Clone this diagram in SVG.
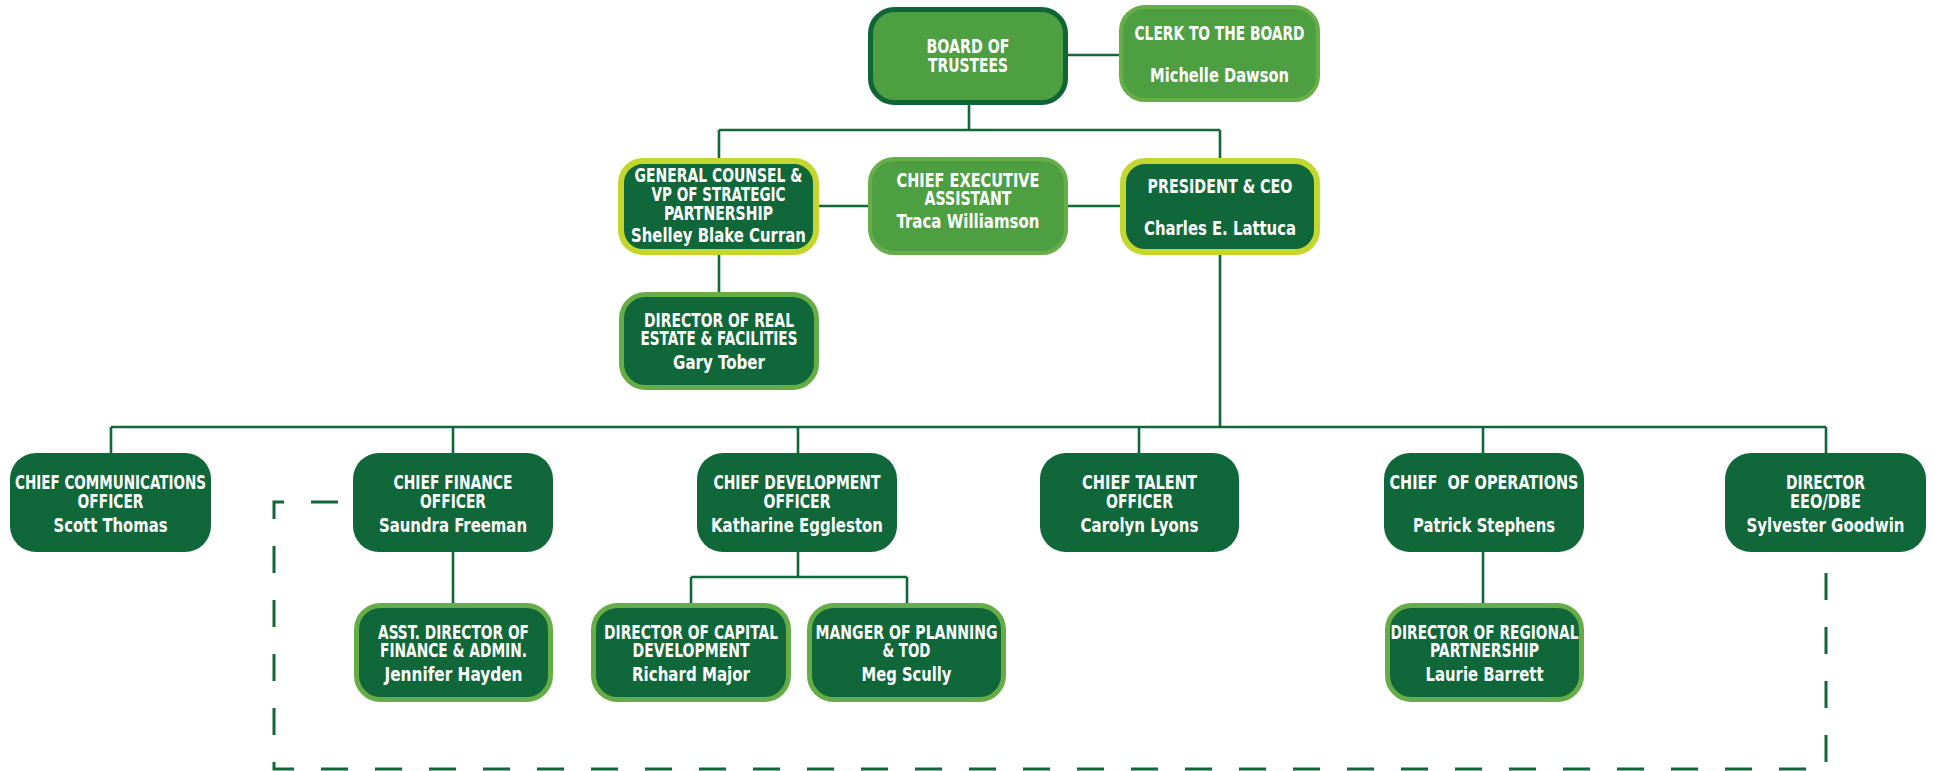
<svg xmlns="http://www.w3.org/2000/svg" width="1935" height="771" viewBox="0 0 1935 771">
<style>
.dk{fill:#10673a}
.yg{fill:#10673a;stroke:#c3d72f;stroke-width:6}
.r4{fill:#10673a;stroke:#67ad47;stroke-width:5}
.bd{fill:#4d9f42;stroke:#0f6536;stroke-width:5}
.lt{fill:#4d9f42;stroke:#68ae48;stroke-width:4}
text{font-family:"Liberation Sans Narrow","DejaVu Sans Condensed","Liberation Sans",sans-serif;font-stretch:condensed;font-weight:bold;font-size:19.5px;fill:#ffffff;text-anchor:middle}
.ln{fill:none;stroke:#10673a;stroke-width:2.6}
.dash{fill:none;stroke:#10673a;stroke-width:3;stroke-dasharray:27 27}
</style>
<rect width="1935" height="771" fill="#ffffff"/>
<g id="connectors">
<path class="ln" d="M1067,55H1120"/>
<path class="ln" d="M969,105V130M719,130H1220M719,130V159M1220,130V159"/>
<path class="ln" d="M817,206H869M1067,206H1121"/>
<path class="ln" d="M719,255V293"/>
<path class="ln" d="M1220,255V427M111,427H1826"/>
<path class="ln" d="M111,427V453M453,427V453M798,427V453M1139,427V453M1483,427V453M1826,427V453"/>
<path class="ln" d="M453,552V604"/>
<path class="ln" d="M798,552V577M691,577H907M691,577V604M907,577V604"/>
<path class="ln" d="M1483,552V604"/>
<path class="dash" d="M338,502H274V769H1826V552"/>
</g>
<g id="board">
<rect class="bd" x="870.5" y="9.5" width="195" height="93" rx="24"/>
<text x="968" y="53" textLength="83" lengthAdjust="spacingAndGlyphs">BOARD OF</text>
<text x="968" y="72" textLength="80" lengthAdjust="spacingAndGlyphs">TRUSTEES</text>
</g>
<g id="clerk">
<rect class="lt" x="1121" y="7" width="197" height="93" rx="24"/>
<text x="1219.5" y="40" textLength="170" lengthAdjust="spacingAndGlyphs">CLERK TO THE BOARD</text>
<text x="1219.5" y="82" textLength="139" lengthAdjust="spacingAndGlyphs">Michelle Dawson</text>
</g>
<g id="general-counsel">
<rect class="yg" x="621" y="161" width="195" height="91" rx="22"/>
<text x="718.5" y="182" textLength="168" lengthAdjust="spacingAndGlyphs">GENERAL COUNSEL &amp;</text>
<text x="718.5" y="201" textLength="134" lengthAdjust="spacingAndGlyphs">VP OF STRATEGIC</text>
<text x="718.5" y="220" textLength="109" lengthAdjust="spacingAndGlyphs">PARTNERSHIP</text>
<text x="718.5" y="242" textLength="175" lengthAdjust="spacingAndGlyphs">Shelley Blake Curran</text>
</g>
<g id="chief-executive-assistant">
<rect class="lt" x="870" y="159" width="196" height="94" rx="24"/>
<text x="968" y="187" textLength="143" lengthAdjust="spacingAndGlyphs">CHIEF EXECUTIVE</text>
<text x="968" y="205" textLength="87" lengthAdjust="spacingAndGlyphs">ASSISTANT</text>
<text x="968" y="228" textLength="143" lengthAdjust="spacingAndGlyphs">Traca Williamson</text>
</g>
<g id="president">
<rect class="yg" x="1123" y="161" width="194" height="91" rx="22"/>
<text x="1220" y="193" textLength="145" lengthAdjust="spacingAndGlyphs">PRESIDENT &amp; CEO</text>
<text x="1220" y="235" textLength="152" lengthAdjust="spacingAndGlyphs">Charles E. Lattuca</text>
</g>
<g id="real-estate">
<rect class="r4" x="621.5" y="294.5" width="195" height="93" rx="24"/>
<text x="719" y="327" textLength="150" lengthAdjust="spacingAndGlyphs">DIRECTOR OF REAL</text>
<text x="719" y="345" textLength="157" lengthAdjust="spacingAndGlyphs">ESTATE &amp; FACILITIES</text>
<text x="719" y="369" textLength="92" lengthAdjust="spacingAndGlyphs">Gary Tober</text>
</g>
<g id="cco">
<rect class="dk" x="10" y="453" width="201" height="99" rx="26"/>
<text x="110.5" y="489" textLength="191" lengthAdjust="spacingAndGlyphs">CHIEF COMMUNICATIONS</text>
<text x="110.5" y="508" textLength="66" lengthAdjust="spacingAndGlyphs">OFFICER</text>
<text x="110.5" y="532" textLength="114" lengthAdjust="spacingAndGlyphs">Scott Thomas</text>
</g>
<g id="cfo">
<rect class="dk" x="353" y="453" width="200" height="99" rx="26"/>
<text x="453" y="489" textLength="119" lengthAdjust="spacingAndGlyphs">CHIEF FINANCE</text>
<text x="453" y="508" textLength="66" lengthAdjust="spacingAndGlyphs">OFFICER</text>
<text x="453" y="532" textLength="148" lengthAdjust="spacingAndGlyphs">Saundra Freeman</text>
</g>
<g id="cdo">
<rect class="dk" x="697" y="453" width="200" height="99" rx="26"/>
<text x="797" y="489" textLength="167" lengthAdjust="spacingAndGlyphs">CHIEF DEVELOPMENT</text>
<text x="797" y="508" textLength="67" lengthAdjust="spacingAndGlyphs">OFFICER</text>
<text x="797" y="532" textLength="172" lengthAdjust="spacingAndGlyphs">Katharine Eggleston</text>
</g>
<g id="cto">
<rect class="dk" x="1040" y="453" width="199" height="99" rx="26"/>
<text x="1139.5" y="489" textLength="115" lengthAdjust="spacingAndGlyphs">CHIEF TALENT</text>
<text x="1139.5" y="508" textLength="67" lengthAdjust="spacingAndGlyphs">OFFICER</text>
<text x="1139.5" y="532" textLength="118" lengthAdjust="spacingAndGlyphs">Carolyn Lyons</text>
</g>
<g id="ops">
<rect class="dk" x="1384" y="453" width="200" height="99" rx="26"/>
<text x="1484" y="489" textLength="189" lengthAdjust="spacingAndGlyphs" xml:space="preserve">CHIEF  OF OPERATIONS</text>
<text x="1484" y="532" textLength="142" lengthAdjust="spacingAndGlyphs">Patrick Stephens</text>
</g>
<g id="eeo">
<rect class="dk" x="1725" y="453" width="201" height="99" rx="26"/>
<text x="1825.5" y="489" textLength="79" lengthAdjust="spacingAndGlyphs">DIRECTOR</text>
<text x="1825.5" y="508" textLength="71" lengthAdjust="spacingAndGlyphs">EEO/DBE</text>
<text x="1825.5" y="532" textLength="158" lengthAdjust="spacingAndGlyphs">Sylvester Goodwin</text>
</g>
<g id="asst-finance">
<rect class="r4" x="356.5" y="605.5" width="194" height="94" rx="24"/>
<text x="453.5" y="639" textLength="151" lengthAdjust="spacingAndGlyphs">ASST. DIRECTOR OF</text>
<text x="453.5" y="657" textLength="147" lengthAdjust="spacingAndGlyphs">FINANCE &amp; ADMIN.</text>
<text x="453.5" y="681" textLength="138" lengthAdjust="spacingAndGlyphs">Jennifer Hayden</text>
</g>
<g id="capital-dev">
<rect class="r4" x="593.5" y="605.5" width="195" height="94" rx="24"/>
<text x="691" y="639" textLength="174" lengthAdjust="spacingAndGlyphs">DIRECTOR OF CAPITAL</text>
<text x="691" y="657" textLength="117" lengthAdjust="spacingAndGlyphs">DEVELOPMENT</text>
<text x="691" y="681" textLength="118" lengthAdjust="spacingAndGlyphs">Richard Major</text>
</g>
<g id="planning">
<rect class="r4" x="809.5" y="605.5" width="194" height="94" rx="24"/>
<text x="906.5" y="639" textLength="182" lengthAdjust="spacingAndGlyphs">MANGER OF PLANNING</text>
<text x="906.5" y="657" textLength="48" lengthAdjust="spacingAndGlyphs">&amp; TOD</text>
<text x="906.5" y="681" textLength="90" lengthAdjust="spacingAndGlyphs">Meg Scully</text>
</g>
<g id="regional">
<rect class="r4" x="1387.5" y="605.5" width="194" height="94" rx="24"/>
<text x="1484.5" y="639" textLength="188" lengthAdjust="spacingAndGlyphs">DIRECTOR OF REGIONAL</text>
<text x="1484.5" y="657" textLength="109" lengthAdjust="spacingAndGlyphs">PARTNERSHIP</text>
<text x="1484.5" y="681" textLength="118" lengthAdjust="spacingAndGlyphs">Laurie Barrett</text>
</g>
</svg>
